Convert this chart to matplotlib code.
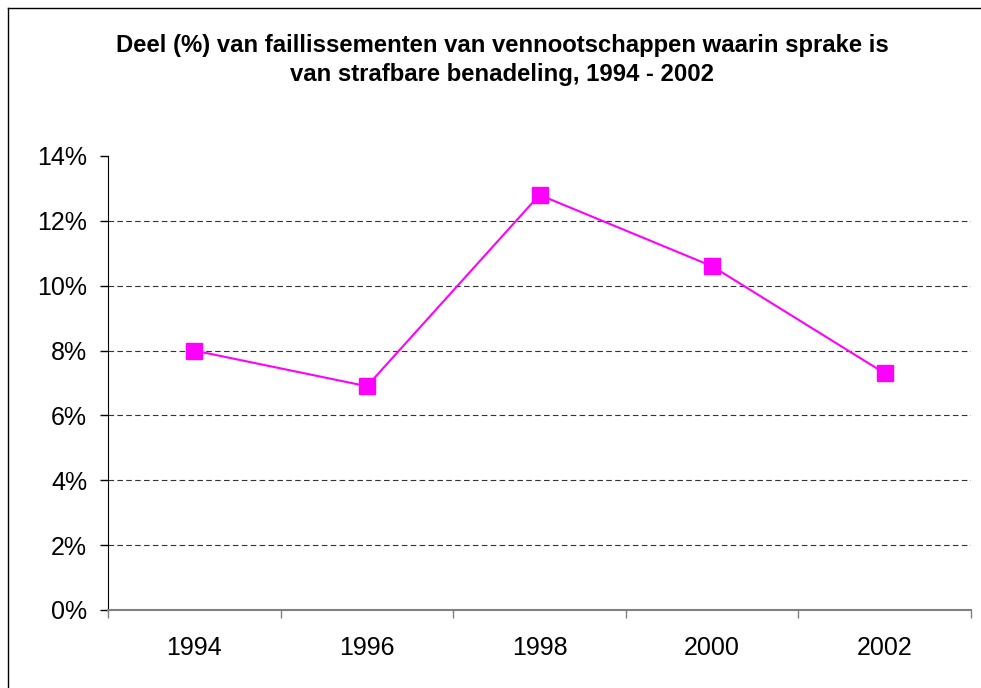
import matplotlib
matplotlib.use('Agg')
import matplotlib.pyplot as plt
from matplotlib.lines import Line2D
from matplotlib.ticker import FixedLocator, FuncFormatter

years = ["1994", "1996", "1998", "2000", "2002"]
share = [8.0, 6.9, 12.8, 10.6, 7.3]
y_ticks = [0, 2, 4, 6, 8, 10, 12, 14]
title = ("Deel (%) van faillissementen van vennootschappen waarin sprake is\n"
         "van strafbare benadeling, 1994 - 2002")

plt.rcParams["font.family"] = ["Liberation Sans", "DejaVu Sans"]

fig = plt.figure(figsize=(9.81, 6.88), dpi=100)
ax = fig.add_axes([0.1101, 0.1134, 0.8797, 0.6599])

# figure frame (top and left edges visible in the reference)
fig.add_artist(Line2D([8 / 981, 1], [1 - 8 / 688, 1 - 8 / 688], color="black", lw=1))
fig.add_artist(Line2D([8 / 981, 8 / 981], [0, 1 - 8 / 688], color="black", lw=1))

fig.text(0.512, 1 - 60 / 688, title, ha="center", va="center", fontsize=17.2,
         fontweight="bold", linespacing=1.33)

x = list(range(len(years)))
ax.set_xlim(-0.5, len(years) - 0.5)
ax.set_ylim(0, 14)

# dashed gridlines between 0 and the top
ax.hlines(y_ticks[1:-1], -0.5, len(years) - 0.5, colors="#333333",
          linestyles=(0, (5, 3)), lw=0.8, zorder=1)

ax.plot(x, share, color="#FF00FF", lw=1.5, marker="s", markersize=11,
        markerfacecolor="#FF00FF", markeredgecolor="#FF00FF", zorder=3)

for s in ["top", "right"]:
    ax.spines[s].set_visible(False)
ax.spines["left"].set_color("black")
ax.spines["bottom"].set_color("#808080")
ax.spines["bottom"].set_linewidth(1.5)

ax.set_yticks(y_ticks)
ax.yaxis.set_major_formatter(FuncFormatter(lambda v, _: f"{v:.0f}%"))
ax.tick_params(axis="y", length=6, width=1, pad=9, labelsize=18, color="black")

ax.xaxis.set_major_locator(FixedLocator([i - 0.5 for i in range(len(years) + 1)]))
ax.xaxis.set_major_formatter(FuncFormatter(lambda v, _: ""))
ax.xaxis.set_minor_locator(FixedLocator(x))
ax.set_xticklabels(years, minor=True)
ax.tick_params(axis="x", which="major", length=6, width=1, color="#808080")
ax.tick_params(axis="x", which="minor", length=0, pad=19, labelsize=18)

fig.savefig("out.png", dpi=100, facecolor="white")
